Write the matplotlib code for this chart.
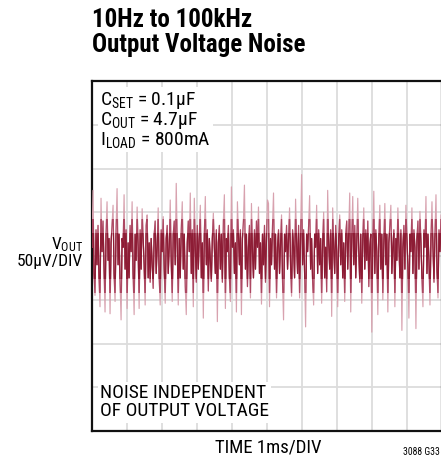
import matplotlib
matplotlib.use("Agg")
import matplotlib.pyplot as plt
import matplotlib.patches as mpatches
from matplotlib import font_manager
import numpy as np

# pick a narrow sans if one is installed
narrow = 'Roboto'
for name in ['Liberation Sans Narrow', 'DejaVu Sans Condensed', 'Roboto Condensed']:
    try:
        font_manager.findfont(name, fallback_to_default=False)
        narrow = name
        break
    except ValueError:
        pass

plt.rcParams['font.family'] = [narrow, 'DejaVu Sans']
plt.rcParams['mathtext.fontset'] = 'custom'
plt.rcParams['mathtext.rm'] = narrow
plt.rcParams['mathtext.it'] = narrow

# output noise trace, µV (one sample per pixel column)
noise_uv = [
    10, 75, -20, -45, 30, -10, 35, -25, -58, 66, 5, 40, -15, -64, 25, 62, -5, 20, -66, 15,
    35, 58, -20, -52, 30, 77, -10, 25, -30, -73, 20, 10, 70, -15, 30, -60, 15, -25, 35, 5,
    62, -20, -67, 25, -5, 56, 10, -60, 30, -15, 54, 20, -10, -56, 35, 47, -25, 15, -30,
    20, -10, -37, 25, 40, -20, 10, 55, -25, -56, 30, 5, 45, -15, -54, 20, 35, -20, 10, 64,
    -5, -52, 25, 40, -10, 83, 15, -56, 20, -25, 30, 62, -15, 25, -35, -67, 15, 40, 5, 72,
    -20, 30, -58, 66, 10, -30, 35, -15, 20, 58, -25, 15, -71, 25, 68, -10, 30, -40, 20,
    -5, -29, 20, 49, 10, -20, 30, -75, 15, 35, -15, 25, -30, 40, 70, -60, 20, 5, 35, -25,
    -52, 79, 10, 30, -20, 15, -64, 62, 25, -10, 30, -67, 20, 40, 81, -15, 25, -35, 10, 35,
    -48, 60, 5, -25, 30, -15, 40, 10, 56, -20, 15, -55, 25, -10, 35, -30, 20, 64,
    60, -58, 20, -10, 35, 72, -15, 25, -48, 10, 30, -20, 15, 47, -30, -73, 25, 5, 35, -15,
    20, 55, -10, -46, 30, 10, -25, 65, 15, -20, 35, -48, 20, 93, -10, 30, -20, -81, 25, 5,
    35, 69, -15, 20, -30, -56, 25, 10, 58, -20, 30, -10, 20, -54, 15, 50, -25, 10,
    -41, 75, 15, -15, 30, -69, 55, 10, -20, 35, 5, -58, 20, 47, -10, 30, -25, 15, -52, 25,
    40, -15, 30, 72, -64, 20, 68, -10, 35, -25, 15, 66, 5, -30, 25, -54, 20, 55, -15, 30,
    -5, 40, -35, 10, 25, -87, 15, 74, -20, 30, 5, -67, 20, 58, -15, 25, -50, 15,
    60, -10, 25, -64, 15, 35, 58, -20, 10, 30, -58, 20, -5, 55, 15, -25, 30, -85, 10, 35,
    -15, 58, 20, -10, -71, 25, 5, 55, -20, 30, 10, -83, 20, 40, -15, 51, 15, -25, -58, 30,
    10, 68, -20, 25, -5, -56, 20, 62, 10, -30, 25, 70, -15, -48, 30, 5, 47, -20,
]
time_ms = np.linspace(0, 10, len(noise_uv))

x_divs = 10   # 1ms/DIV
y_divs = 8    # 50µV/DIV
uv_per_div = 50

fig = plt.figure(figsize=(4.41, 4.62), dpi=100)
ax = fig.add_axes([92 / 441, 31 / 462, 350 / 441, 350 / 462])
ax.set_xlim(0, x_divs)
ax.set_ylim(-y_divs / 2 * uv_per_div, y_divs / 2 * uv_per_div)
ax.set_xticks(np.arange(1, x_divs))
ax.set_yticks(np.arange(-3, 4) * uv_per_div)
ax.grid(True, color='#dcdcdc', lw=1.3)
ax.tick_params(length=0, labelbottom=False, labelleft=False)
for s in ax.spines.values():
    s.set_linewidth(1.6)
    s.set_color('#111111')

# light outer trace, darker where the trace is dense (middle of the band)
layers = [(None, '#d8a2af', 0.85, 1.0), (42, '#a83e5a', 0.85, 0.9), (26, '#8a1830', 0.9, 0.9)]
for half, color, lw, a in layers:
    ln, = ax.plot(time_ms, noise_uv, color=color, lw=lw, alpha=a, zorder=3)
    if half is not None:
        clip = mpatches.Rectangle((0, -half), x_divs, 2 * half, transform=ax.transData,
                                  fill=False, visible=False)
        ax.add_patch(clip)
        ln.set_clip_path(clip)

box = dict(facecolor='white', edgecolor='none', pad=1.5)
ax.text(0.023, 0.975,
        '$\\mathrm{C_{SET}}$ = 0.1µF\n$\\mathrm{C_{OUT}}$ = 4.7µF\n$\\mathrm{I_{LOAD}}$ = 800mA',
        transform=ax.transAxes, ha='left', va='top', fontsize=14,
        linespacing=0.95, bbox=box, zorder=5)
ax.text(0.023, 0.03, 'NOISE INDEPENDENT\nOF OUTPUT VOLTAGE',
        transform=ax.transAxes, ha='left', va='bottom', fontsize=14,
        linespacing=1.0, bbox=box, zorder=5)

fig.text(92 / 441, 1 - 8 / 462, '10Hz to 100kHz\nOutput Voltage Noise',
         ha='left', va='top', fontsize=18, fontweight='bold', linespacing=1.05)
fig.text(83 / 441, 1 - 252 / 462, '$\\mathrm{V_{OUT}}$\n50µV/DIV',
         ha='right', va='center', fontsize=12.5, linespacing=1.0)
fig.text(268 / 441, 1 - 447 / 462, 'TIME 1ms/DIV', ha='center', va='center',
         fontsize=13.5)
fig.text(440 / 441, 1 - 452 / 462, '3088 G33', ha='right', va='center',
         fontsize=7)

fig.savefig('out.png', dpi=100)
